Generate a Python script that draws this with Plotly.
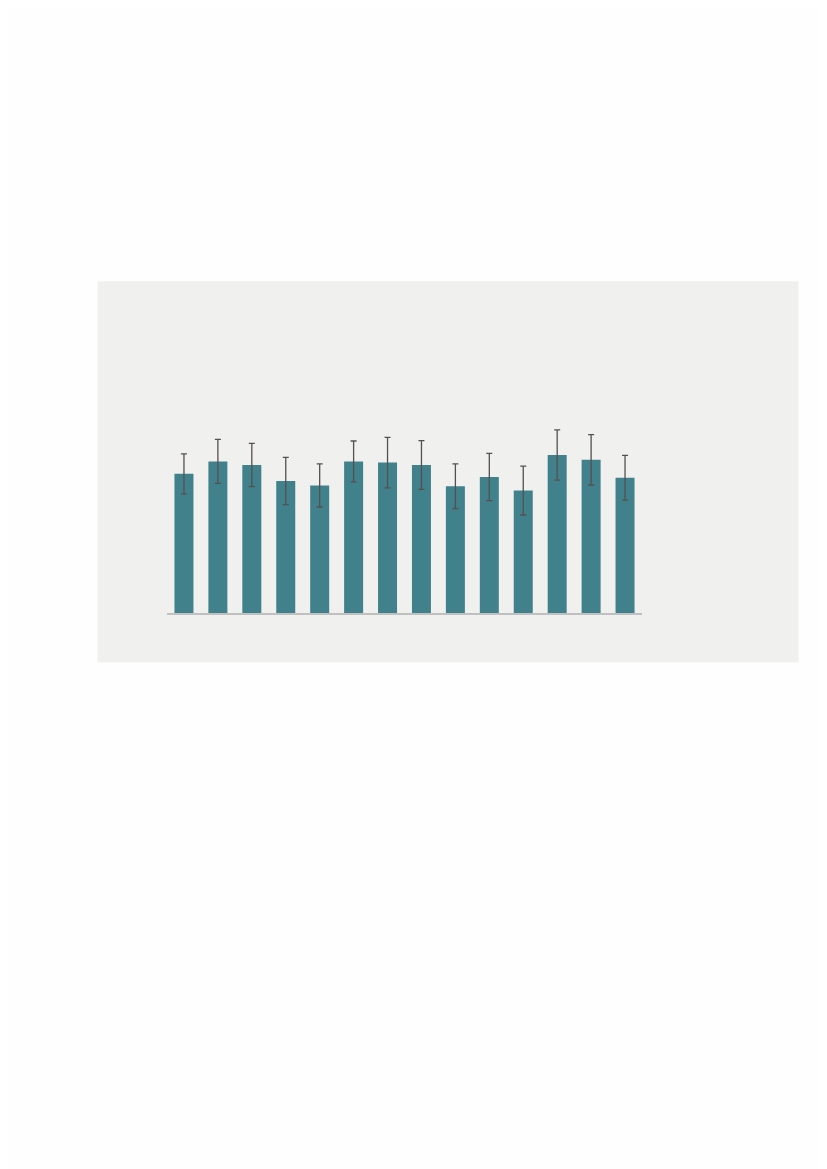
import plotly.graph_objects as go

# 14 groups, no labels shown in the figure
groups = list(range(1, 15))
means = [3.48, 3.79, 3.70, 3.30, 3.19, 3.79, 3.76, 3.70, 3.17, 3.40, 3.06, 3.95, 3.83, 3.38]
errors = [0.50, 0.55, 0.54, 0.59, 0.54, 0.51, 0.63, 0.61, 0.56, 0.59, 0.61, 0.63, 0.63, 0.56]

W, H = 827, 1169
off = 8  # page body margin in the browser
left, right = 167.3 - off, 641.7 - off   # plot area in px
top, bottom = 292.7 - off, 612.7 - off
panel = dict(x0=98 - off, x1=798 - off, y0=281 - off, y1=662 - off)  # grey backdrop

pw = right - left
ph = bottom - top

fig = go.Figure()
fig.add_trace(go.Bar(
    x=groups,
    y=means,
    marker=dict(color='#41818b', line=dict(width=0)),
    error_y=dict(type='data', array=errors, visible=True,
                 color='#555050', thickness=1.3, width=3),
))

fig.add_shape(
    type='rect', xref='paper', yref='paper', layer='below',
    x0=(panel['x0'] - left) / pw, x1=(panel['x1'] - left) / pw,
    y0=(bottom - panel['y1']) / ph, y1=(bottom - panel['y0']) / ph,
    fillcolor='#f0f0ee', line=dict(width=0),
)

fig.update_layout(
    width=W, height=H,
    margin=dict(l=left, r=W - right, t=top, b=H - bottom, pad=0),
    paper_bgcolor='#fefefe',
    plot_bgcolor='rgba(0,0,0,0)',
    bargap=0.44,
    showlegend=False,
    xaxis=dict(range=[0.5, 14.5], showticklabels=False, ticks='',
               showgrid=False, zeroline=False,
               showline=True, linecolor='#c0c0c0', linewidth=2),
    yaxis=dict(range=[0, 8], showticklabels=False, ticks='',
               showgrid=False, zeroline=False, showline=False),
)

fig.write_html("out.html")
